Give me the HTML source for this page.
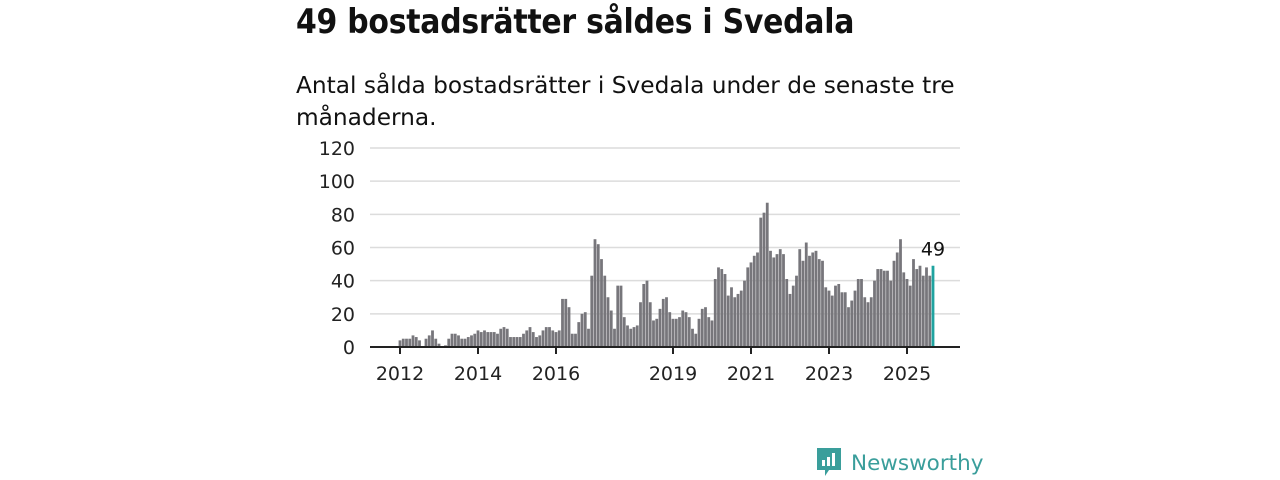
<!DOCTYPE html>
<html><head><meta charset="utf-8"><style>
body{margin:0;width:1280px;height:480px;background:#fff;font-family:"Liberation Sans","DejaVu Sans",sans-serif;color:#111;position:relative;overflow:hidden}
h1{position:absolute;left:296px;top:2px;margin:0;font-size:34px;font-weight:bold;font-family:"DejaVu Sans","Liberation Sans",sans-serif;letter-spacing:-0.3px;transform:scaleX(0.88);transform-origin:0 0;white-space:nowrap}
p.sub{position:absolute;left:296px;top:69px;margin:0;font-size:23.5px;line-height:32px;width:720px;font-family:"DejaVu Sans","Liberation Sans",sans-serif;font-weight:normal;transform:scaleX(0.99);transform-origin:0 0}
svg{position:absolute;left:0;top:0}
</style></head><body>
<h1>49 bostadsrätter såldes i Svedala</h1>
<p class="sub">Antal sålda bostadsrätter i Svedala under de senaste tre<br>månaderna.</p>
<svg id="chart" width="1280" height="480"></svg>
<div style="position:absolute;left:815px;top:446px;display:flex;align-items:center">
<svg width="28" height="34" style="position:static" viewBox="0 0 28 34"><path d="M2 2h24v22H14l-4 6v-6H2z" fill="#3a9e9b"/><rect x="7" y="14" width="3" height="6" fill="#fff"/><rect x="12" y="11" width="3" height="9" fill="#fff"/><rect x="17" y="7" width="3" height="13" fill="#fff"/></svg>
<span style="color:#3a9e9b;font-size:21.5px;font-family:'DejaVu Sans',sans-serif;margin-left:8px">Newsworthy</span></div>
<script>
const y2012=[4,5,5,5,7,6,4,0,5,7,10,5];
const y2013=[2,0,1,5,8,8,7,5,5,6,7,8];
const y2014=[10,9,10,9,9,9,8,11,12,11,6,6];
const y2015=[6,6,8,10,12,9,6,7,10,12,12,10];
const y2016=[9,10,29,29,24,8,8,15,20,21,11,43];
const y2017=[65,62,53,43,30,22,11,37,37,18,13,11];
const y2018=[12,13,27,38,40,27,16,17,23,29,30,21];
const y2019=[17,17,18,22,21,18,11,8,17,23,24,18];
const y2020=[16,41,48,47,44,31,36,30,32,34,40,48];
const y2021=[51,55,57,78,81,87,58,54,56,59,56,41];
const y2022=[32,37,43,59,52,63,55,57,58,53,52,36];
const y2023=[34,31,37,38,33,33,24,28,34,41,41,30];
const y2024=[27,30,40,47,47,46,46,40,52,57,65,45];
const y2025=[41,37,53,47,49,43,48,43,49];
const values=[].concat(y2012,y2013,y2014,y2015,y2016,y2017,y2018,y2019,y2020,y2021,y2022,y2023,y2024,y2025);
const yTicks=[0,20,40,60,80,100,120];
const xTickYears=[2012,2014,2016,2019,2021,2023,2025];
const NS="http://www.w3.org/2000/svg";
const svg=document.getElementById('chart');
const x0=400,mw=3.25,y0=347,yScale=199/120;
const xs=i=>x0+i*mw;
const ys=v=>y0-v*yScale;
function mk(t,a){const e=document.createElementNS(NS,t);for(const k in a)e.setAttribute(k,a[k]);svg.appendChild(e);return e;}
yTicks.forEach(t=>{
 if(t>0){const l=mk('line',{x1:370,x2:960,y1:ys(t),y2:ys(t),stroke:'#dcdcdc','stroke-width':1.5});
 
 }
 const tx=mk('text',{x:355,y:ys(t)+7,'text-anchor':'end','font-size':19,fill:'#222','font-family':'DejaVu Sans, Liberation Sans, sans-serif'});
 tx.textContent=t;
 
 
});
values.forEach((v,i)=>{
 const last=i===values.length-1;
 const r=mk('rect',{x:xs(i)-1.4,y:ys(v),width:2.8,height:v*yScale,fill:last?'#1fa3a0':'#77767b'});
 
 
});
const ax=mk('line',{x1:370,x2:960,y1:y0,y2:y0,stroke:'#222','stroke-width':2});


xTickYears.forEach(yr=>{
 const x=xs((yr-2012)*12);
 const tk=mk('line',{x1:x,x2:x,y1:y0,y2:y0+7,stroke:'#222','stroke-width':2});
 
 
 const t=mk('text',{x:x,y:380,'text-anchor':'middle','font-size':19,fill:'#222','font-family':'DejaVu Sans, Liberation Sans, sans-serif'});
 t.textContent=yr;
 
 
});
const li=values.length-1;
const lb=mk('text',{x:xs(li),y:ys(values[li])-10,'text-anchor':'middle','font-size':19,fill:'#111','font-family':'DejaVu Sans, Liberation Sans, sans-serif'});
lb.textContent=values[li];


</script>
</body></html>
